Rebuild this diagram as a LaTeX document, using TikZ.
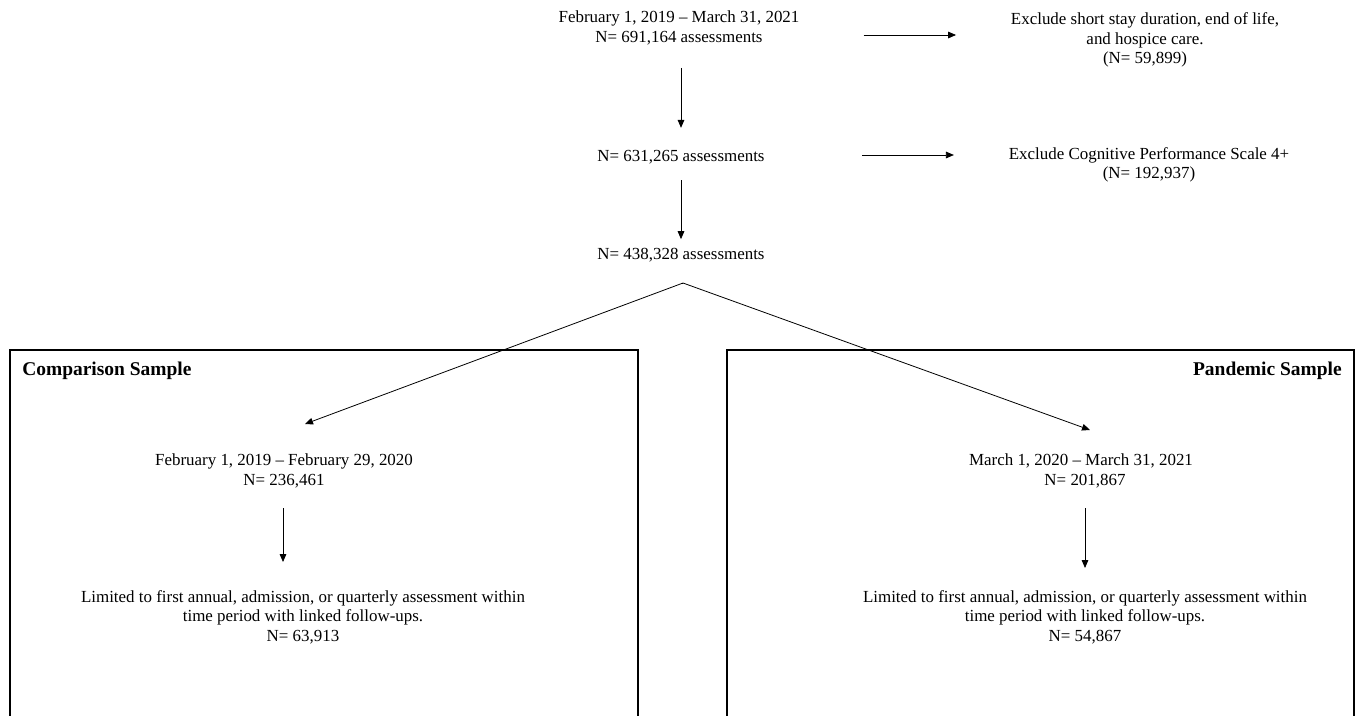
\documentclass[tikz,border=0pt]{standalone}
\usepackage{fontspec}
\setmainfont{Liberation Serif}
\usetikzlibrary{arrows.meta}
\tikzset{
  lbl/.style={align=center, inner sep=0pt, font=\fontsize{12.7}{14.6}\selectfont},
  head/.style={inner sep=0pt, font=\fontsize{14.6}{16}\selectfont\bfseries},
  arr/.style={line width=0.6pt, -{Triangle[length=6pt, width=5pt]}},
  panel/.style={line width=0.9pt}
}
\begin{document}
\begin{tikzpicture}[x=0.75pt, y=-0.75pt]
    \useasboundingbox (0,0) rectangle (1356,715);
    \node[lbl] (all) at (679,28) {February 1, 2019 -- March 31, 2021\\N= 691,164 assessments};
    \node[lbl] (excl1) at (1145,40) {Exclude short stay duration, end of life,\\and hospice care.\\(N= 59,899)};
    \node[lbl] (n1) at (681,157) {N= 631,265 assessments};
    \node[lbl] (excl2) at (1149,165) {Exclude Cognitive Performance Scale 4+\\(N= 192,937)};
    \node[lbl] (n2) at (681,255) {N= 438,328 assessments};
    \coordinate (fork) at (683,283);
    \coordinate (cmptip) at (305,424);
    \coordinate (pdmtip) at (1090,430);
    \draw[panel] (10,725) |- (638,350) -- (638,725);
    \draw[panel] (727,725) |- (1354,350) -- (1354,725);
    \node[head, anchor=west] (cmphead) at (22,371) {Comparison Sample};
    \node[head, anchor=east] (pdmhead) at (1342,371) {Pandemic Sample};
    \node[lbl] (cmp) at (284,471) {February 1, 2019 -- February 29, 2020\\N= 236,461};
    \node[lbl] (cmpfu) at (303,617) {Limited to first annual, admission, or quarterly assessment within\\time period with linked follow-ups.\\N= 63,913};
    \node[lbl] (pdm) at (1081,471) {March 1, 2020 -- March 31, 2021\\\hspace*{6pt}N= 201,867};
    \node[lbl] (pdmfu) at (1085,617) {Limited to first annual, admission, or quarterly assessment within\\time period with linked follow-ups.\\N= 54,867};
    \draw[arr, shorten <=17pt, shorten >=16.5pt] (all.south -| n1) -- (n1.north);
    \draw[arr, shorten <=12pt, shorten >=6.5pt] (n1) -- (n2);
    \draw[arr, shorten <=48pt, shorten >=41pt] (all.east |- 0,35) -- (excl1.west |- 0,35);
    \draw[arr, shorten <=73pt, shorten >=41pt] (n1.east |- 0,155) -- (excl2.west |- 0,155);
    \draw[line width=0.6pt] (n2.south |- fork) -- (fork);
    \draw[arr] (fork) -- (cmptip);
    \draw[arr] (fork) -- (pdmtip);
    \draw[arr, shorten <=15pt, shorten >=21pt] (cmp.south -| 283,0) -- (cmpfu.north -| 283,0);
    \draw[arr, shorten <=15pt, shorten >=16.5pt] (pdm.south -| 1085,0) -- (pdmfu.north -| 1085,0);
\end{tikzpicture}
\end{document}
